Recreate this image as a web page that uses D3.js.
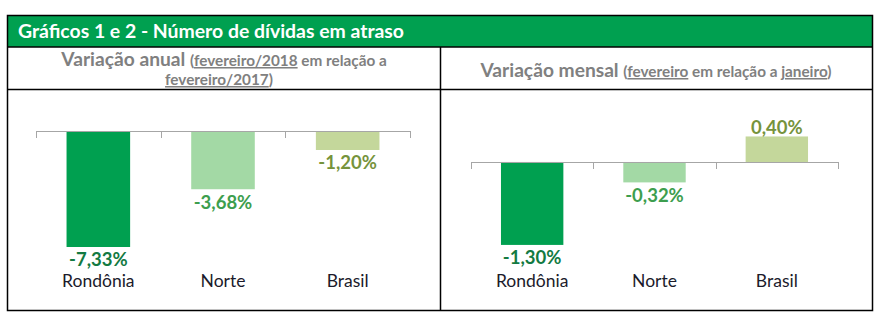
<!DOCTYPE html>
<html>
<head>
<meta charset="utf-8">
<script src="https://cdn.jsdelivr.net/npm/d3@7"></script>
<style>
  body { margin: 0; background: #fff; }
  text { font-family: Lato, "Open Sans", sans-serif; }
</style>
</head>
<body>
<div id="chart"></div>
<script>
var categories = ["Rondônia", "Norte", "Brasil"];
var anualValues = [-7.33, -3.68, -1.20];
var mensalValues = [-1.30, -0.32, 0.40];
var anualLabels = ["-7,33%", "-3,68%", "-1,20%"];
var mensalLabels = ["-1,30%", "-0,32%", "0,40%"];

var barColors = ["#00a050", "#a3d9a5", "#c4d79b"];
var labelColors = ["#137a42", "#3d9e4e", "#76933c"];

var svg = d3.select("#chart").append("svg")
    .attr("width", 880)
    .attr("height", 319);

// frame
var box = {left: 7.5, right: 872.5, top: 15.5, bottom: 310.5, mid: 440.5, head: 47, sub: 89.5};

svg.append("rect")
    .attr("x", box.left).attr("y", box.top)
    .attr("width", box.right - box.left).attr("height", box.head - box.top)
    .attr("fill", "#00a050");

svg.append("text")
    .attr("x", 18).attr("y", 38)
    .attr("fill", "#fff")
    .style("font-size", "19.4px")
    .style("font-weight", "bold")
    .text("Gráficos 1 e 2 - Número de dívidas em atraso");

svg.append("rect")
    .attr("x", box.left).attr("y", box.top)
    .attr("width", box.right - box.left).attr("height", box.bottom - box.top)
    .attr("fill", "none").attr("stroke", "#000").attr("stroke-width", 1.5);

svg.append("line")
    .attr("x1", box.left).attr("x2", box.right)
    .attr("y1", box.head).attr("y2", box.head)
    .attr("stroke", "#000").attr("stroke-width", 1.5);
svg.append("line")
    .attr("x1", box.left).attr("x2", box.right)
    .attr("y1", box.sub).attr("y2", box.sub)
    .attr("stroke", "#000").attr("stroke-width", 1.5);
svg.append("line")
    .attr("x1", box.mid).attr("x2", box.mid)
    .attr("y1", box.head).attr("y2", box.bottom)
    .attr("stroke", "#000").attr("stroke-width", 1.5);

// subtitles
function subPart(t, txt, size, underline) {
    t.append("tspan")
        .style("font-size", size + "px")
        .style("text-decoration", underline ? "underline" : "none")
        .text(txt);
}

var s1 = svg.append("text")
    .attr("x", 224).attr("y", 66)
    .attr("text-anchor", "middle")
    .attr("fill", "#808080")
    .style("font-weight", "bold");
subPart(s1, "Variação anual ", 19.2, false);
subPart(s1, "(", 15.3, false);
subPart(s1, "fevereiro/2018", 15.3, true);
subPart(s1, " em relação a", 15.3, false);

var s2 = svg.append("text")
    .attr("x", 219).attr("y", 85)
    .attr("text-anchor", "middle")
    .attr("fill", "#808080")
    .style("font-weight", "bold");
subPart(s2, "fevereiro/2017", 15.3, true);
subPart(s2, ")", 15.3, false);

var s3 = svg.append("text")
    .attr("x", 656).attr("y", 77)
    .attr("text-anchor", "middle")
    .attr("fill", "#808080")
    .style("font-weight", "bold");
subPart(s3, "Variação mensal ", 19.2, false);
subPart(s3, "(", 15.3, false);
subPart(s3, "fevereiro", 15.3, true);
subPart(s3, " em relação a ", 15.3, false);
subPart(s3, "janeiro", 15.3, true);
subPart(s3, ")", 15.3, false);

function drawPanel(values, labels, xRange, yDomain, yRange) {
    var x = d3.scaleBand()
        .domain(categories)
        .range(xRange)
        .paddingInner(0.49)
        .paddingOuter(0.245);

    var y = d3.scaleLinear()
        .domain(yDomain)
        .range(yRange);

    var g = svg.append("g");

    g.selectAll(".bar")
        .data(values)
        .enter().append("rect")
        .attr("class", "bar")
        .attr("x", function(d, i) { return x(categories[i]); })
        .attr("width", x.bandwidth())
        .attr("y", function(d) { return y(Math.max(0, d)); })
        .attr("height", function(d) { return Math.abs(y(d) - y(0)); })
        .attr("fill", function(d, i) { return barColors[i]; });

    // category axis with ticks between categories
    var step = x.step();
    var edges = categories.map(function(c) { return x(c) - step * x.paddingInner() / 2; });
    edges.push(xRange[1]);

    g.append("line")
        .attr("x1", xRange[0]).attr("x2", xRange[1])
        .attr("y1", Math.round(y(0)) + 0.5).attr("y2", Math.round(y(0)) + 0.5)
        .attr("stroke", "#a6a6a6").attr("stroke-width", 1);

    g.selectAll(".tick")
        .data(edges)
        .enter().append("line")
        .attr("x1", function(d) { return Math.round(d) + 0.5; })
        .attr("x2", function(d) { return Math.round(d) + 0.5; })
        .attr("y1", Math.round(y(0)))
        .attr("y2", Math.round(y(0)) + 7)
        .attr("stroke", "#a6a6a6");

    g.selectAll(".vlabel")
        .data(values)
        .enter().append("text")
        .attr("x", function(d, i) { return x(categories[i]) + x.bandwidth() / 2; })
        .attr("y", function(d) { return d < 0 ? y(d) + 13 : y(d) - 9; })
        .attr("dy", "0.35em")
        .attr("text-anchor", "middle")
        .attr("fill", function(d, i) { return labelColors[i]; })
        .style("font-size", "18.5px")
        .style("font-weight", "bold")
        .text(function(d, i) { return labels[i]; });

    g.selectAll(".cat")
        .data(categories)
        .enter().append("text")
        .attr("x", function(d) { return x(d) + x.bandwidth() / 2; })
        .attr("y", 281)
        .attr("dy", "0.35em")
        .attr("text-anchor", "middle")
        .attr("fill", "#1b1b2b")
        .style("font-size", "17.5px")
        .text(function(d) { return d; });
}

drawPanel(anualValues, anualLabels, [36, 410], [-8, 0], [257.6, 131]);
drawPanel(mensalValues, mensalLabels, [471, 838], [-1.4, 0.6], [251.3, 123.7]);
</script>
</body>
</html>
